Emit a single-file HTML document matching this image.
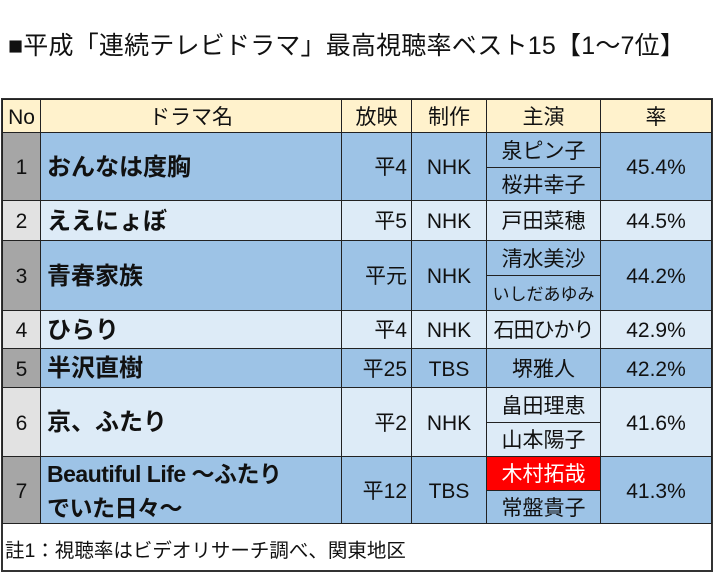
<!DOCTYPE html>
<html><head><meta charset="utf-8"><style>
body{margin:0;width:714px;height:572px;background:#fff;position:relative;overflow:hidden;font-family:"Liberation Sans","Noto Sans CJK JP",sans-serif;color:#111}
.c{position:absolute;box-sizing:border-box;display:flex;align-items:center;justify-content:center;font-size:21px;border:1px solid #222;line-height:1;padding-top:2px}
.t{position:absolute;left:8px;top:31px;font-size:25px;white-space:nowrap;letter-spacing:0.2px;line-height:1.2}
.d{background:#9dc3e6}.l{background:#ddebf7}.h{background:#fff2cc}.gd{background:#a6a6a6}.gl{background:#e2e2e2}
.n{justify-content:flex-start;padding-left:6px;font-weight:bold;font-size:24px}
.r{justify-content:flex-end;padding-right:4px}
</style></head><body>
<div class="t">■平成「連続テレビドラマ」最高視聴率ベスト15【1～7位】</div>
<div style="position:absolute;left:1px;top:98px;width:712px;height:474px;border:2px solid #333;box-sizing:border-box"></div>
<div class="c h" style="left:2px;top:99px;width:39px;height:34px">No</div>
<div class="c h" style="left:40px;top:99px;width:302px;height:34px">ドラマ名</div>
<div class="c h" style="left:341px;top:99px;width:71px;height:34px">放映</div>
<div class="c h" style="left:411px;top:99px;width:76px;height:34px">制作</div>
<div class="c h" style="left:486px;top:99px;width:115px;height:34px">主演</div>
<div class="c h" style="left:600px;top:99px;width:112px;height:34px">率</div>
<div class="c gd" style="left:2px;top:132px;width:39px;height:69px">1</div>
<div class="c d n" style="left:40px;top:132px;width:302px;height:69px">おんなは度胸</div>
<div class="c d r" style="left:341px;top:132px;width:71px;height:69px">平4</div>
<div class="c d" style="left:411px;top:132px;width:76px;height:69px">NHK</div>
<div class="c d" style="left:486px;top:132px;width:115px;height:36px">泉ピン子</div>
<div class="c d" style="left:486px;top:167px;width:115px;height:34px">桜井幸子</div>
<div class="c d" style="left:600px;top:132px;width:112px;height:69px">45.4%</div>
<div class="c gl" style="left:2px;top:200px;width:39px;height:41px">2</div>
<div class="c l n" style="left:40px;top:200px;width:302px;height:41px">ええにょぼ</div>
<div class="c l r" style="left:341px;top:200px;width:71px;height:41px">平5</div>
<div class="c l" style="left:411px;top:200px;width:76px;height:41px">NHK</div>
<div class="c l" style="left:486px;top:200px;width:115px;height:41px">戸田菜穂</div>
<div class="c l" style="left:600px;top:200px;width:112px;height:41px">44.5%</div>
<div class="c gd" style="left:2px;top:240px;width:39px;height:71px">3</div>
<div class="c d n" style="left:40px;top:240px;width:302px;height:71px">青春家族</div>
<div class="c d r" style="left:341px;top:240px;width:71px;height:71px">平元</div>
<div class="c d" style="left:411px;top:240px;width:76px;height:71px">NHK</div>
<div class="c d" style="left:486px;top:240px;width:115px;height:36px">清水美沙</div>
<div class="c d" style="left:486px;top:275px;width:115px;height:36px;font-size:17px">いしだあゆみ</div>
<div class="c d" style="left:600px;top:240px;width:112px;height:71px">44.2%</div>
<div class="c gl" style="left:2px;top:310px;width:39px;height:39px">4</div>
<div class="c l n" style="left:40px;top:310px;width:302px;height:39px">ひらり</div>
<div class="c l r" style="left:341px;top:310px;width:71px;height:39px">平4</div>
<div class="c l" style="left:411px;top:310px;width:76px;height:39px">NHK</div>
<div class="c l" style="left:486px;top:310px;width:115px;height:39px;letter-spacing:-1px">石田ひかり</div>
<div class="c l" style="left:600px;top:310px;width:112px;height:39px">42.9%</div>
<div class="c gd" style="left:2px;top:348px;width:39px;height:40px">5</div>
<div class="c d n" style="left:40px;top:348px;width:302px;height:40px">半沢直樹</div>
<div class="c d r" style="left:341px;top:348px;width:71px;height:40px">平25</div>
<div class="c d" style="left:411px;top:348px;width:76px;height:40px">TBS</div>
<div class="c d" style="left:486px;top:348px;width:115px;height:40px">堺雅人</div>
<div class="c d" style="left:600px;top:348px;width:112px;height:40px">42.2%</div>
<div class="c gl" style="left:2px;top:387px;width:39px;height:70px">6</div>
<div class="c l n" style="left:40px;top:387px;width:302px;height:70px">京、ふたり</div>
<div class="c l r" style="left:341px;top:387px;width:71px;height:70px">平2</div>
<div class="c l" style="left:411px;top:387px;width:76px;height:70px">NHK</div>
<div class="c l" style="left:486px;top:387px;width:115px;height:36px">畠田理恵</div>
<div class="c l" style="left:486px;top:422px;width:115px;height:35px">山本陽子</div>
<div class="c l" style="left:600px;top:387px;width:112px;height:70px">41.6%</div>
<div class="c gd" style="left:2px;top:456px;width:39px;height:68px">7</div>
<div class="c d n" style="left:40px;top:456px;width:302px;height:68px;line-height:34px;white-space:nowrap;display:block;padding-top:0;font-size:23px;letter-spacing:-0.5px">Beautiful Life ～ふたり<br>でいた日々～</div>
<div class="c d r" style="left:341px;top:456px;width:71px;height:68px">平12</div>
<div class="c d" style="left:411px;top:456px;width:76px;height:68px">TBS</div>
<div class="c" style="left:486px;top:456px;width:115px;height:35px;background:#ff0000;color:#fff">木村拓哉</div>
<div class="c d" style="left:486px;top:490px;width:115px;height:34px">常盤貴子</div>
<div class="c d" style="left:600px;top:456px;width:112px;height:68px">41.3%</div>
<div style="position:absolute;left:5px;top:534px;font-size:19.5px;white-space:nowrap">註1：視聴率はビデオリサーチ調べ、関東地区</div>
</body></html>
